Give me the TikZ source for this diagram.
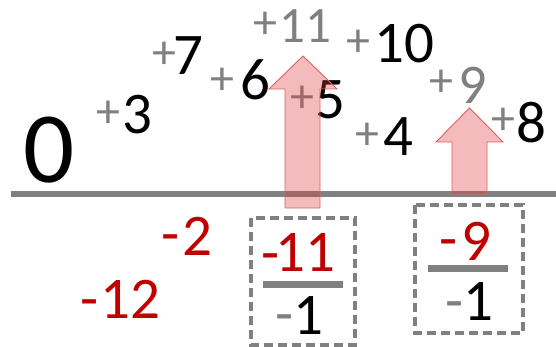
\documentclass[tikz,border=0pt]{standalone}
\usepackage{fontspec}
\setmainfont{Carlito}
\definecolor{tgray}{RGB}{128,128,128}
\definecolor{tred}{RGB}{192,0,0}
\definecolor{afill}{RGB}{222,60,60}
\definecolor{aline}{RGB}{225,95,95}
\tikzset{
  num/.style={inner sep=0pt, font=\fontsize{59}{59}\selectfont},
  plus/.style={inner sep=0pt, anchor=base, text=tgray, font=\fontsize{48}{48}\selectfont},
  minus/.style={inner sep=0pt, anchor=base, font=\fontsize{59}{59}\selectfont},
  axisline/.style={draw=tgray, line width=6pt},
  fracbar/.style={draw=tgray, line width=7pt},
  dashbox/.style={draw=tgray, line width=4pt, dash pattern=on 9pt off 5pt},
  bigarrow/.style={fill=afill, fill opacity=0.35, draw=aline, line width=0.9pt, line join=miter}
}
\begin{document}
\begin{tikzpicture}[x=1pt,y=-1pt]
\useasboundingbox (0,0) rectangle (556,347);
% axis
\coordinate (axL) at (11,194);
\coordinate (axR) at (556,194);
\draw[axisline] (axL) -- (axR);
% zero
\node[inner sep=0pt, font=\fontsize{101}{101}\selectfont] (n0) at (49,150) {0};
% positive labels
\node[plus] (p3) at (108,127.5) {+};  \node[num] (n3) at (137,115) {3};
\node[plus] (p7) at (164,68.5) {+};   \node[num] (n7) at (188,56) {7};
\node[plus] (p6) at (222,94.5) {+};   \node[num] (n6) at (255,80) {6};
\node[plus] (p11) at (265,38.5) {+};  \node[num, text=tgray, font=\fontsize{51}{51}\selectfont] (n11) at (305,26) {11};
\node[plus] (p5) at (302,112.5) {+};  \node[num] (n5) at (330,100) {5};
\node[plus] (p10) at (358,56.5) {+};  \node[num] (n10) at (404,44) {10};
\node[plus] (p9) at (441,97) {+};   \node[num, text=tgray, font=\fontsize{56}{56}\selectfont] (n9) at (473,85) {9};
\node[plus] (p4) at (367,149.5) {+};  \node[num] (n4) at (398,137) {4};
\node[plus] (p8) at (503,134.5) {+};  \node[num] (n8) at (531,123) {8};
% negative labels
\node[minus, text=tred] (m2) at (171,253) {-};   \node[num, text=tred] (n2) at (197,236) {2};
\node[minus, text=tred] (m12) at (90,318) {-};   \node[num, text=tred] (n12) at (130,299) {12};
% box 1
\node[minus, text=tred] (bm11) at (271,272) {-}; \node[num, text=tred] (bn11) at (305,253) {11};
\coordinate (bar1L) at (263,284); \coordinate (bar1R) at (343,284);
\draw[fracbar] (bar1L) -- (bar1R);
\node[minus, text=tgray] (bm1a) at (285,333) {-}; \node[num] (bn1a) at (308,316) {1};
% box 2
\node[minus, text=tred] (bm9) at (449,258) {-}; \node[num, text=tred] (bn9) at (476,241) {9};
\coordinate (bar2L) at (428,268); \coordinate (bar2R) at (508,268);
\draw[fracbar] (bar2L) -- (bar2R);
\node[minus, text=tgray] (bm1b) at (455,320) {-}; \node[num] (bn1b) at (478,302) {1};
% arrows
\draw[bigarrow] (285,208) -- (285,89) -- (269,89) -- (303,56) -- (337,89) -- (320,89) -- (320,208) -- cycle;
\draw[bigarrow] (452,194) -- (452,142) -- (436,142) -- (469.5,108) -- (503,142) -- (487,142) -- (487,194) -- cycle;
% dashed boxes
\coordinate (b1a) at (251,218); \coordinate (b1b) at (355,345);
\draw[dashbox] (b1a) rectangle (b1b);
\coordinate (b2a) at (415,205); \coordinate (b2b) at (523,333);
\draw[dashbox] (b2a) rectangle (b2b);
\end{tikzpicture}
\end{document}
